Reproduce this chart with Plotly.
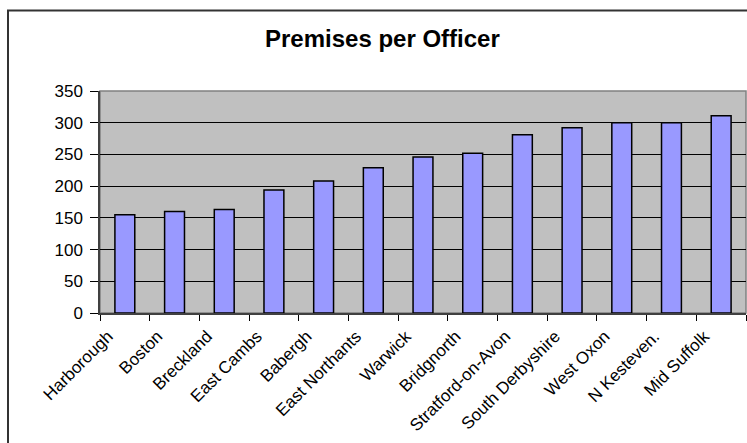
import plotly.graph_objects as go

categories = ["Harborough", "Boston", "Breckland", "East Cambs", "Babergh",
              "East Northants", "Warwick", "Bridgnorth", "Stratford-on-Avon",
              "South Derbyshire", "West Oxon", "N Kesteven.", "Mid Suffolk"]
values = [155, 160, 163, 194, 208, 229, 246, 252, 281, 292, 300, 300, 311]
y_ticks = [0, 50, 100, 150, 200, 250, 300, 350]

W, H = 747, 443
ML, MR, MT, MB = 100, 1, 91, 130
pw = W - ML - MR
ph = H - MT - MB

def px_x(x):
    return (x - ML) / pw

def px_y(y):
    return (H - MB - y) / ph

font = "Liberation Sans, Arial, sans-serif"

fig = go.Figure()
fig.add_trace(go.Bar(
    x=categories, y=values,
    marker=dict(color="#9999FF", line=dict(color="#000000", width=1.5)),
))

fig.update_layout(
    width=W, height=H,
    margin=dict(l=ML, r=MR, t=MT, b=MB, autoexpand=False),
    paper_bgcolor="white",
    plot_bgcolor="#C0C0C0",
    bargap=0.6,
    showlegend=False,
    font=dict(family=font, color="#000000", size=17),
    xaxis=dict(
        type="category", tickson="boundaries", ticks="outside", ticklen=6,
        tickcolor="#000000", tickangle=-45, showgrid=False,
        showline=True, linecolor="#404040", linewidth=1.5,
        tickfont=dict(size=17), ticklabelshift=-17, ticklabelstandoff=5,
        fixedrange=True,
    ),
    yaxis=dict(
        range=[0, 350], tickvals=y_ticks, ticks="outside", ticklen=8,
        tickcolor="#000000", showgrid=True, gridcolor="#000000", gridwidth=1,
        showline=True, linecolor="#404040", linewidth=1.5, zeroline=False,
        tickfont=dict(size=17), ticklabelstandoff=4, fixedrange=True,
    ),
    shapes=[
        dict(type="rect", xref="paper", yref="paper", x0=0, x1=1, y0=0, y1=1,
             line=dict(color="#808080", width=1.5), layer="below"),
        dict(type="rect", xref="paper", yref="paper",
             x0=px_x(8), x1=px_x(760), y0=px_y(460), y1=px_y(10.5),
             line=dict(color="#333333", width=2)),
    ],
    annotations=[
        dict(text="<b>Premises per Officer</b>", xref="paper", yref="paper",
             x=px_x(382), y=px_y(38), xanchor="center", yanchor="middle",
             showarrow=False, font=dict(size=24, family=font, color="#000000")),
    ],
)

fig.write_html("out.html")
